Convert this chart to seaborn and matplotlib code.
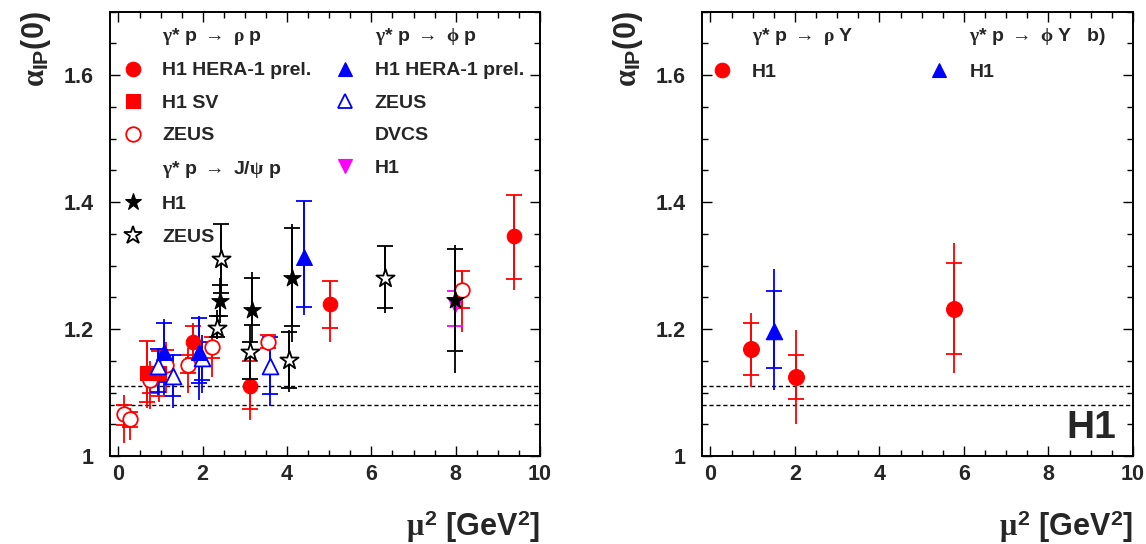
import numpy as np
import matplotlib
matplotlib.use("Agg")
import matplotlib.pyplot as plt
import seaborn as sns
from matplotlib.lines import Line2D
from matplotlib.ticker import MultipleLocator

# ---------------- data ----------------
# each series: x, y, stat-tick low/high, total-bar low/high
rho_h1_x = [1.78, 3.13, 5.03, 9.39]
rho_h1_y = [1.180, 1.111, 1.239, 1.346]
rho_h1_slo = [1.155, 1.074, 1.202, 1.279]
rho_h1_shi = [1.204, 1.149, 1.276, 1.411]
rho_h1_tlo = [1.140, 1.057, 1.180, 1.262]
rho_h1_thi = [1.210, 1.149, 1.276, 1.411]

rho_sv_x = [0.67, 0.97]
rho_sv_y = [1.131, 1.131]
rho_sv_slo = [1.085, 1.095]
rho_sv_shi = [1.181, 1.165]
rho_sv_tlo = [1.075, 1.085]
rho_sv_thi = [1.181, 1.170]

rho_zeus_x = [0.14, 0.28, 0.76, 1.13, 1.65, 2.23, 3.54, 8.14]
rho_zeus_y = [1.066, 1.059, 1.120, 1.144, 1.143, 1.172, 1.180, 1.261]
rho_zeus_slo = [1.049, 1.045, 1.100, 1.120, 1.130, 1.155, 1.170, 1.233]
rho_zeus_shi = [1.080, 1.070, 1.140, 1.167, 1.159, 1.188, 1.190, 1.291]
rho_zeus_tlo = [1.020, 1.025, 1.074, 1.100, 1.099, 1.125, 1.165, 1.196]
rho_zeus_thi = [1.096, 1.075, 1.150, 1.180, 1.170, 1.190, 1.190, 1.291]

phi_h1_x = [1.09, 1.90, 4.40]
phi_h1_y = [1.164, 1.164, 1.313]
phi_h1_slo = [1.117, 1.115, 1.234]
phi_h1_shi = [1.209, 1.217, 1.402]
phi_h1_tlo = [1.096, 1.088, 1.222]
phi_h1_thi = [1.215, 1.220, 1.402]

phi_zeus_x = [0.93, 1.30, 1.98, 3.59]
phi_zeus_y = [1.141, 1.126, 1.154, 1.141]
phi_zeus_slo = [1.101, 1.094, 1.120, 1.097]
phi_zeus_shi = [1.168, 1.159, 1.180, 1.188]
phi_zeus_tlo = [1.096, 1.075, 1.100, 1.078]
phi_zeus_thi = [1.170, 1.160, 1.190, 1.188]

dvcs_x = [7.99]
dvcs_y = [1.238]
dvcs_slo = [1.205]
dvcs_shi = [1.260]
dvcs_tlo = [1.170]
dvcs_thi = [1.268]

jpsi_h1_x = [2.41, 3.18, 4.12, 7.99]
jpsi_h1_y = [1.244, 1.230, 1.281, 1.246]
jpsi_h1_slo = [1.220, 1.207, 1.204, 1.165]
jpsi_h1_shi = [1.270, 1.280, 1.359, 1.326]
jpsi_h1_tlo = [1.210, 1.178, 1.180, 1.130]
jpsi_h1_thi = [1.280, 1.290, 1.366, 1.332]

jpsi_zeus_x = [2.34, 2.44, 3.11, 4.04, 6.33]
jpsi_zeus_y = [1.201, 1.311, 1.163, 1.151, 1.281]
jpsi_zeus_slo = [1.188, 1.257, 1.121, 1.107, 1.233]
jpsi_zeus_shi = [1.220, 1.366, 1.180, 1.196, 1.331]
jpsi_zeus_tlo = [1.185, 1.257, 1.120, 1.101, 1.225]
jpsi_zeus_thi = [1.230, 1.366, 1.206, 1.198, 1.331]

rhoY_x = [0.97, 2.02, 5.77]
rhoY_y = [1.1685, 1.125, 1.231]
rhoY_slo = [1.127, 1.089, 1.160]
rhoY_shi = [1.210, 1.159, 1.304]
rhoY_tlo = [1.108, 1.050, 1.130]
rhoY_thi = [1.225, 1.199, 1.335]

phiY_x = [1.50]
phiY_y = [1.197]
phiY_slo = [1.139]
phiY_shi = [1.260]
phiY_tlo = [1.104]
phiY_thi = [1.294]

soft_pomeron_lines = [1.081, 1.111]
xticks = [0, 2, 4, 6, 8, 10]
yticks = [1.0, 1.2, 1.4, 1.6]
ytick_labels = ["1", "1.2", "1.4", "1.6"]

# ---------------- style ----------------
sns.set_theme(style="ticks")
plt.rcParams["font.family"] = ["Liberation Sans", "DejaVu Sans"]
plt.rcParams["font.weight"] = "bold"
plt.rcParams["mathtext.fontset"] = "custom"
plt.rcParams["mathtext.rm"] = "Liberation Serif"
plt.rcParams["mathtext.it"] = "Liberation Serif"
plt.rcParams["mathtext.bf"] = "Liberation Sans:bold"
plt.rcParams["mathtext.sf"] = "Liberation Sans:bold"

RED = "#ff0000"
BLUE = "#0000ff"
MAG = "#ff00ff"
BLK = "#000000"

W, H = 1146, 544
fig = plt.figure(figsize=(W / 100, H / 100), dpi=100)
ax1 = fig.add_axes([110 / W, 1 - 456 / H, 430 / W, 444.5 / H])
ax2 = fig.add_axes([702 / W, 1 - 456 / H, 431 / W, 444.5 / H])


def series(ax, x, y, slo, shi, tlo, thi, color, marker, size, filled=True, z=3):
    y = np.asarray(y, float)
    tlo = np.asarray(tlo, float); thi = np.asarray(thi, float)
    slo = np.asarray(slo, float); shi = np.asarray(shi, float)
    ax.errorbar(x, y, yerr=[y - tlo, thi - y], fmt="none", ecolor=color,
                elinewidth=1.3, capsize=0, zorder=z - 1)
    ax.errorbar(x, y, yerr=[y - slo, shi - y], fmt="none", ecolor=color,
                elinewidth=1.3, capsize=5.5, capthick=1.3, zorder=z - 1)
    fc = color if filled else "white"
    sns.scatterplot(x=x, y=y, marker=marker, s=size, color=color,
                    facecolor=fc, edgecolor=color,
                    linewidth=0.8 if filled else 1.3, ax=ax, zorder=z,
                    legend=False)


for ax in (ax1, ax2):
    for yv in soft_pomeron_lines:
        ax.axhline(yv, color="black", lw=1.0, ls=(0, (3, 2)), zorder=1)

# left panel
series(ax1, rho_zeus_x, rho_zeus_y, rho_zeus_slo, rho_zeus_shi, rho_zeus_tlo, rho_zeus_thi, RED, "o", 110, False)
series(ax1, rho_sv_x, rho_sv_y, rho_sv_slo, rho_sv_shi, rho_sv_tlo, rho_sv_thi, RED, "s", 110)
series(ax1, rho_h1_x, rho_h1_y, rho_h1_slo, rho_h1_shi, rho_h1_tlo, rho_h1_thi, RED, "o", 110)
series(ax1, phi_zeus_x, phi_zeus_y, phi_zeus_slo, phi_zeus_shi, phi_zeus_tlo, phi_zeus_thi, BLUE, "^", 130, False)
series(ax1, phi_h1_x, phi_h1_y, phi_h1_slo, phi_h1_shi, phi_h1_tlo, phi_h1_thi, BLUE, "^", 130)
series(ax1, dvcs_x, dvcs_y, dvcs_slo, dvcs_shi, dvcs_tlo, dvcs_thi, MAG, "v", 110)
series(ax1, jpsi_zeus_x, jpsi_zeus_y, jpsi_zeus_slo, jpsi_zeus_shi, jpsi_zeus_tlo, jpsi_zeus_thi, BLK, "*", 190, False, z=5)
series(ax1, jpsi_h1_x, jpsi_h1_y, jpsi_h1_slo, jpsi_h1_shi, jpsi_h1_tlo, jpsi_h1_thi, BLK, "*", 170, z=6)

# right panel
series(ax2, rhoY_x, rhoY_y, rhoY_slo, rhoY_shi, rhoY_tlo, rhoY_thi, RED, "o", 130)
series(ax2, phiY_x, phiY_y, phiY_slo, phiY_shi, phiY_tlo, phiY_thi, BLUE, "^", 140)

for ax in (ax1, ax2):
    ax.set_xlim(-0.2, 10)
    ax.set_ylim(1.0, 1.70)
    ax.set_xticks(xticks)
    ax.set_xticklabels([str(v) for v in xticks])
    ax.set_yticks(yticks)
    ax.set_yticklabels(ytick_labels)
    ax.xaxis.set_minor_locator(MultipleLocator(0.5))
    ax.yaxis.set_minor_locator(MultipleLocator(0.05))
    ax.tick_params(which="both", direction="in", top=True, right=True,
                   width=1.0, color="black", labelsize=15.5)
    ax.tick_params(which="major", length=7.5)
    ax.tick_params(which="minor", length=4)
    ax.tick_params(axis="x", which="major", pad=5.5)
    ax.tick_params(axis="y", which="major", pad=11.5)
    for sp in ax.spines.values():
        sp.set_visible(True)
        sp.set_linewidth(1.4)
        sp.set_color("black")
    for lab in ax.get_xticklabels() + ax.get_yticklabels():
        lab.set_fontweight("bold")
    ax.set_xlabel(r"$\mu^{\mathbf{2}}$ [GeV$^{\mathbf{2}}$]", loc="right",
                  fontsize=22, fontweight="bold", labelpad=17)
    ax.set_ylabel(r"$\alpha_{\mathbf{IP}}$(0)", loc="top", fontsize=22,
                  fontweight="bold", labelpad=8)

# ---------------- legends ----------------
def mk(marker, color, filled=True, ms=10.5):
    if marker is None:
        return Line2D([], [], ls="none", marker=None)
    return Line2D([], [], ls="none", marker=marker, markersize=ms,
                  markerfacecolor=color if filled else "white",
                  markeredgecolor=color, markeredgewidth=1.3 if not filled else 0.8)

h_left = [mk(None, None), mk("o", RED), mk("s", RED), mk("o", RED, False),
          mk(None, None), mk("*", BLK, ms=12.5), mk("*", BLK, False, ms=13.5),
          mk(None, None), mk("^", BLUE), mk("^", BLUE, False), mk(None, None),
          mk("v", MAG), mk(None, None), mk(None, None)]
l_left = [r"$\gamma$* p $\rightarrow$ $\rho$ p", "H1 HERA-1 prel.", "H1 SV", "ZEUS",
          r"$\gamma$* p $\rightarrow$ J/$\psi$ p", "H1", "ZEUS",
          r"$\gamma$* p $\rightarrow$ $\phi$ p", "H1 HERA-1 prel.", "ZEUS", "DVCS",
          "H1", "", ""]
leg1 = ax1.legend(h_left, l_left, ncol=2, loc="upper left",
                  bbox_to_anchor=(0.031, 0.968), frameon=False,
                  prop={"weight": "bold", "size": 14}, handlelength=1.0,
                  handletextpad=1.0, columnspacing=1.25, labelspacing=0.77,
                  borderpad=0, borderaxespad=0)

h_right = [mk(None, None), mk("o", RED), mk(None, None), mk("^", BLUE)]
l_right = [r"$\gamma$* p $\rightarrow$ $\rho$ Y", "H1",
           r"$\gamma$* p $\rightarrow$ $\phi$ Y   b)", "H1"]
leg2 = ax2.legend(h_right, l_right, ncol=2, loc="upper left",
                  bbox_to_anchor=(0.024, 0.968), frameon=False,
                  prop={"weight": "bold", "size": 14}, handlelength=1.0,
                  handletextpad=1.05, columnspacing=3.9, labelspacing=0.85,
                  borderpad=0, borderaxespad=0)

ax2.text(0.96, 0.0225, "H1", transform=ax2.transAxes, ha="right", va="bottom",
         fontsize=28, fontweight="bold")

fig.savefig("out.png", dpi=100)
